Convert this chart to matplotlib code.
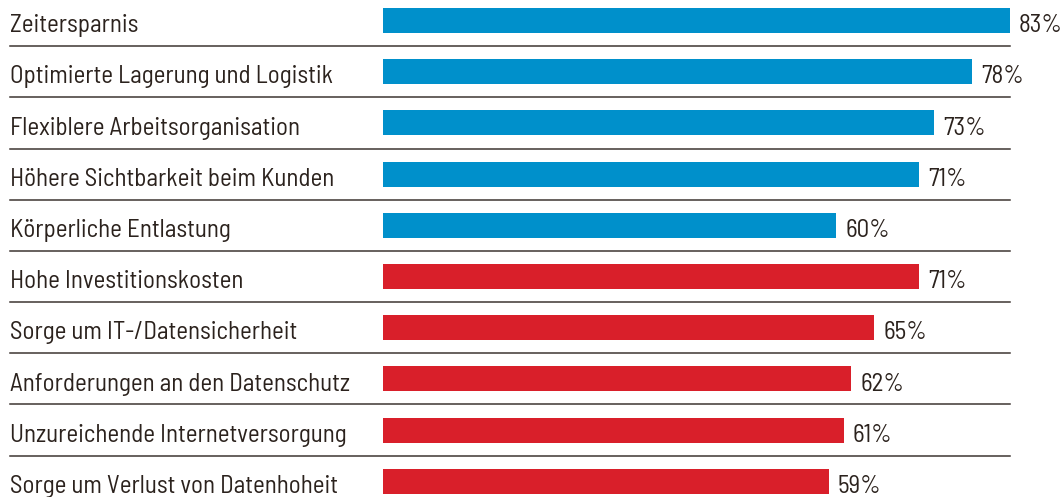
import matplotlib
matplotlib.use('Agg')
import matplotlib.pyplot as plt

labels = ['Zeitersparnis', 'Optimierte Lagerung und Logistik', 'Flexiblere Arbeitsorganisation',
          'Höhere Sichtbarkeit beim Kunden', 'Körperliche Entlastung', 'Hohe Investitionskosten',
          'Sorge um IT-/Datensicherheit', 'Anforderungen an den Datenschutz',
          'Unzureichende Internetversorgung', 'Sorge um Verlust von Datenhoheit']
values = [83, 78, 73, 71, 60, 71, 65, 62, 61, 59]
groups = ['chance'] * 5 + ['risiko'] * 5

colors = {'chance': '#0090cb', 'risiko': '#d91f2a'}
textcol = '#2b221d'

plt.rcParams['font.family'] = ['Barlow Semi Condensed', 'DejaVu Sans']

W, H = 1062, 497
fig = plt.figure(figsize=(W / 100, H / 100), dpi=100)
ax = fig.add_axes([0, 0, 1, 1])

px_per_pct = 7.554
x0 = 383
row0 = 20.5
step = 51.2
ax.set_xlim(-x0 / px_per_pct, (W - x0) / px_per_pct)
ax.set_ylim((H - row0) / step, -row0 / step)
ax.axis('off')

label_x = (10 - x0) / px_per_pct
ypos = list(range(len(labels)))
ax.barh(ypos, values, height=25 / step, color=[colors[g] for g in groups], left=0)

for i, (lab, v) in enumerate(zip(labels, values)):
    ax.text(label_x, i + 0.1, lab, fontsize=18, color=textcol, va='center', ha='left')
    ax.text(v + 1.2, i + 0.1, f'{v}%', fontsize=18, color=textcol, va='center', ha='left')
    if i < len(labels) - 1:
        ax.plot([label_x, max(values)], [i + 0.5, i + 0.5], color='#3d3531', lw=1.1)

fig.savefig('out.png', dpi=100)
